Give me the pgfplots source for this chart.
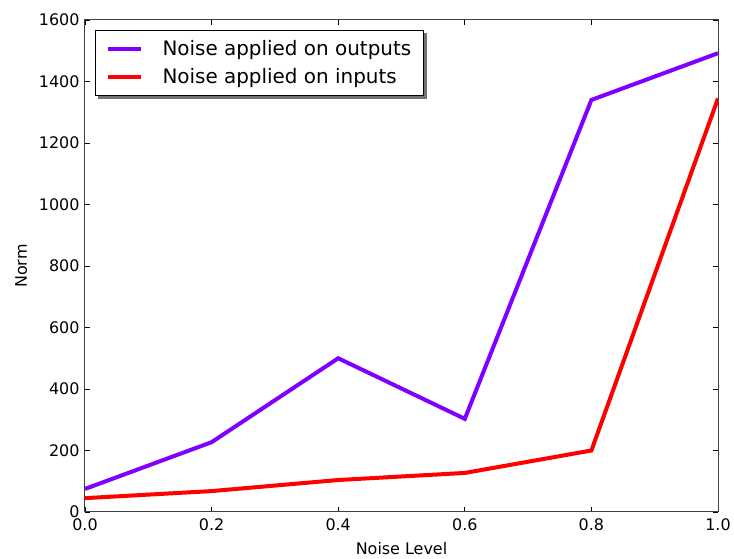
\documentclass[border=0pt]{standalone}
\usepackage{fontspec}
\setmainfont{DejaVu Sans}
\usepackage{pgfplots}
\pgfplotsset{compat=1.18}
\usetikzlibrary{backgrounds}
\definecolor{mpurple}{RGB}{127,0,255}
\definecolor{mred}{RGB}{255,0,0}
\begin{document}
\begin{tikzpicture}
\begin{axis}[
  scale only axis,
  width=633bp, height=492bp,
  xmin=0, xmax=1, ymin=0, ymax=1600,
  xtick={0,0.2,0.4,0.6,0.8,1.0},
  ytick={0,200,400,600,800,1000,1200,1400,1600},
  xticklabels={0.0,0.2,0.4,0.6,0.8,1.0},
  scaled ticks=false,
  /pgf/number format/assume math mode=true,
  /pgf/number format/1000 sep={},
  tick align=inside,
  major tick length=5bp,
  xtick pos=both, ytick pos=both,
  tick style={black, line width=0.8bp},
  axis line style={black!75, line width=1bp},
  ticklabel style={font=\fontsize{16}{19}\selectfont},
  xticklabel style={yshift=-3bp},
  yticklabel style={xshift=-2bp},
  xlabel={Noise Level}, ylabel={Norm},
  label style={font=\fontsize{16}{19}\selectfont},
  xlabel style={yshift=-5bp},
  ylabel style={yshift=5bp},
  legend style={name=leg, at={(0.016,0.98)}, anchor=north west, draw=black, line width=0.8bp,
    fill=white, font=\fontsize{20}{24}\selectfont,
    inner xsep=10bp, inner ysep=8bp, row sep=8bp,
    /tikz/every odd column/.append style={column sep=18bp}},
  legend cell align=left,
  legend image code/.code={\draw[#1, line width=4bp, line cap=butt] (0bp,0bp) -- (33bp,0bp);},
]
\addplot[mpurple, line width=4bp] coordinates {(0,75) (0.2,227) (0.4,500) (0.6,303) (0.8,1340) (1.0,1492)};
\addlegendentry{Noise applied on outputs}
\addplot[mred, line width=4bp] coordinates {(0,45) (0.2,68) (0.4,104) (0.6,127) (0.8,200) (1.0,1345)};
\addlegendentry{Noise applied on inputs}
\end{axis}
\begin{pgfonlayer}{background}
\fill[black!55] ([xshift=3bp,yshift=-3bp]leg.south west) rectangle ([xshift=3bp,yshift=-3bp]leg.north east);
\end{pgfonlayer}
\path (-85bp,-45bp) rectangle (649bp,512bp);
\end{tikzpicture}
\end{document}
